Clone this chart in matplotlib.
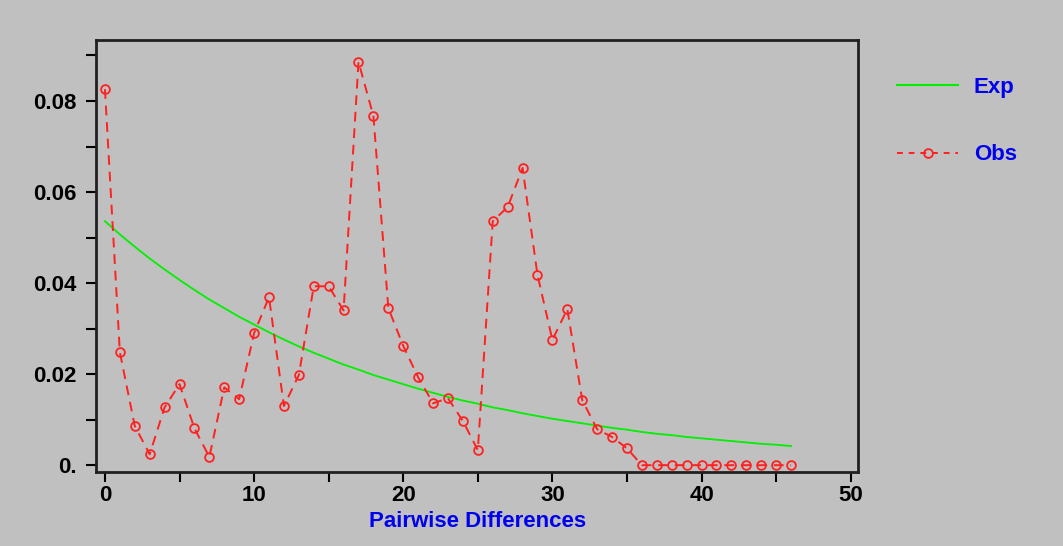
import matplotlib
matplotlib.use("Agg")
import matplotlib.pyplot as plt
from matplotlib.lines import Line2D

plt.rcParams["font.family"] = ["Liberation Sans", "DejaVu Sans"]

# pairwise differences 0..46
x_values = list(range(0, 47))

obs = [0.0826, 0.0248, 0.0086, 0.0024, 0.0127, 0.0178, 0.0081, 0.0018, 0.0171, 0.0145,
       0.0290, 0.0369, 0.0130, 0.0198, 0.0393, 0.0393, 0.0340, 0.0886, 0.0767, 0.0345,
       0.0262, 0.0193, 0.0136, 0.0147, 0.0097, 0.0033, 0.0536, 0.0567, 0.0653, 0.0418,
       0.0275, 0.0343, 0.0143, 0.0079, 0.0062, 0.0037, 0, 0, 0, 0,
       0, 0, 0, 0, 0, 0, 0]

# expected curve
exp_vals = [0.0536, 0.0507, 0.0480, 0.0454, 0.0430, 0.0407, 0.0385, 0.0364, 0.0345, 0.0326,
            0.0309, 0.0292, 0.0276, 0.0261, 0.0247, 0.0234, 0.0221, 0.0210, 0.0198, 0.0188,
            0.0178, 0.0168, 0.0159, 0.0150, 0.0142, 0.0135, 0.0127, 0.0121, 0.0114, 0.0108,
            0.0102, 0.0097, 0.0092, 0.0087, 0.0082, 0.0078, 0.0073, 0.0069, 0.0066, 0.0062,
            0.0059, 0.0056, 0.0053, 0.0050, 0.0047, 0.0045, 0.0042]

y_ticks = [0.0, 0.01, 0.02, 0.03, 0.04, 0.05, 0.06, 0.07, 0.08, 0.09]
y_labels = ["0.", "", "0.02", "", "0.04", "", "0.06", "", "0.08", ""]
x_ticks = [0, 5, 10, 15, 20, 25, 30, 35, 40, 45, 50]
x_labels = ["0", "", "10", "", "20", "", "30", "", "40", "", "50"]

bg = "#c0c0c0"
fig = plt.figure(figsize=(10.63, 5.46), dpi=100, facecolor=bg)
ax = fig.add_axes([0.0903, 0.1355, 0.717, 0.7912], facecolor=bg)

ax.plot(x_values, exp_vals, color="#00f000", linewidth=1.3)
ax.plot(x_values, obs, color="#ff2020", linestyle=(0, (5, 3.5)), linewidth=1.4,
        marker="o", markersize=6.3, markerfacecolor="none", markeredgecolor="#ff2020",
        markeredgewidth=1.3)

ax.set_xlim(-0.6, 50.5)
ax.set_ylim(-0.0015, 0.0934)
ax.set_xticks(x_ticks)
ax.set_xticklabels(x_labels)
ax.set_yticks(y_ticks)
ax.set_yticklabels(y_labels)
ax.tick_params(axis="both", direction="out", length=7, width=1.5, labelsize=16, colors="black")
ax.tick_params(axis="y", pad=7)
ax.tick_params(axis="x", pad=2)
for lab in ax.get_xticklabels() + ax.get_yticklabels():
    lab.set_fontweight("bold")
for s in ax.spines.values():
    s.set_linewidth(2)
    s.set_color("#202020")

ax.set_xlabel("Pairwise Differences", color="#0000ee", fontsize=16, fontweight="bold", labelpad=4)

# legend outside the plot on the right
handles = [
    Line2D([], [], color="#00f000", linewidth=1.5),
    Line2D([], [], color="#ff2020", linestyle=(0, (3, 3)), linewidth=1.4, marker="o",
           markersize=6.3, markerfacecolor="none", markeredgecolor="#ff2020", markeredgewidth=1.3),
]
leg = fig.legend(handles, ["Exp", "Obs"], loc="upper left", bbox_to_anchor=(0.825, 0.896),
                 frameon=False, handlelength=2.75, handletextpad=0.7, labelspacing=2.1,
                 prop={"weight": "bold", "size": 16})
for t in leg.get_texts():
    t.set_color("#0000ee")

fig.savefig("out.png", dpi=100, facecolor=bg)
